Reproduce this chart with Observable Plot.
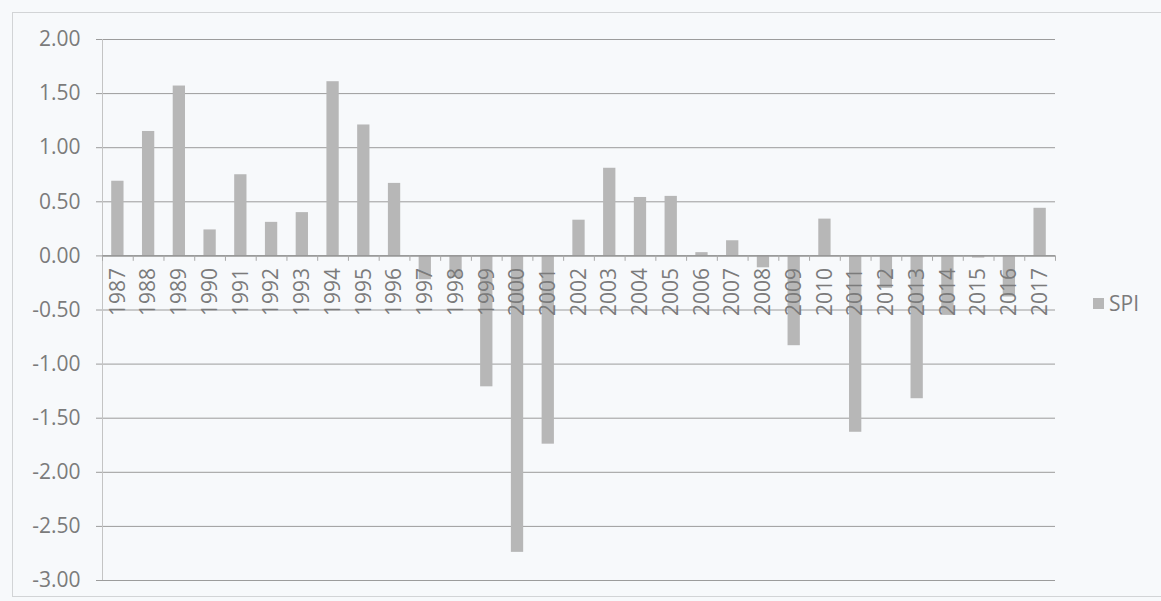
<!DOCTYPE html>
<html>
<head>
<meta charset="utf-8">
<script src="https://cdn.jsdelivr.net/npm/d3@7"></script>
<script src="https://cdn.jsdelivr.net/npm/@observablehq/plot@0.6"></script>
<style>
  html, body { margin: 0; padding: 0; background: #f7f9fb; }
  #wrap { position: relative; width: 1161px; height: 601px; overflow: hidden; }
  #border { position: absolute; left: 12px; top: 12px; width: 1160px; height: 585px; border-left: 1px solid #d2d4d6; border-top: 1px solid #d2d4d6; border-bottom: 1px solid #d2d4d6; box-sizing: border-box; }
  #legend { position: absolute; left: 1093px; top: 289px; height: 28px; font-family: "Open Sans", "Noto Sans", sans-serif; font-size: 21px; color: #7b7b7b; display: flex; align-items: center; }
  #legend span.sw { display: inline-block; width: 11px; height: 11px; background: #b7b7b7; margin-right: 5px; }
</style>
</head>
<body>
<div id="wrap">
  <div id="border"></div>
  <div id="chart"></div>
  <div id="legend"><span class="sw"></span><span>SPI</span></div>
</div>
<script>
const years = ["1987","1988","1989","1990","1991","1992","1993","1994","1995","1996",
  "1997","1998","1999","2000","2001","2002","2003","2004","2005","2006",
  "2007","2008","2009","2010","2011","2012","2013","2014","2015","2016","2017"];
const spi = [0.69, 1.15, 1.57, 0.24, 0.75, 0.31, 0.40, 1.61, 1.21, 0.67,
  -0.22, -0.20, -1.21, -2.74, -1.74, 0.33, 0.81, 0.54, 0.55, 0.03,
  0.14, -0.11, -0.83, 0.34, -1.63, -0.30, -1.32, -0.55, -0.02, -0.38, 0.44];
const yTicks = [-3, -2.5, -2, -1.5, -1, -0.5, 0, 0.5, 1, 1.5, 2];

const data = years.map((year, i) => ({year, spi: spi[i]}));

const W = 1161, H = 601, mL = 102, mR = 106, mT = 39, mB = 21;
const step = (W - mL - mR) / years.length;

const chart = Plot.plot({
  width: W,
  height: H,
  marginLeft: mL,
  marginRight: mR,
  marginTop: mT,
  marginBottom: mB,
  style: {background: "transparent", color: "#7b7b7b", fontFamily: "'Open Sans', 'Noto Sans', sans-serif", fontSize: "21px", overflow: "visible"},
  x: {domain: years, paddingInner: 0.6, paddingOuter: 0.3, round: false, axis: null, label: null},
  y: {domain: [-3, 2], axis: null, label: null},
  marks: [
    Plot.ruleY(yTicks, {stroke: "#9c9c9c", strokeWidth: 1}),
    Plot.axisY({ticks: yTicks, label: null, tickFormat: d => d.toFixed(2), tickSize: 6, tickPadding: 16, stroke: "#9c9c9c", fill: "#7b7b7b", fontSize: 21}),
    Plot.ruleX([years[0]], {dx: -step / 2, y1: -3, y2: 2, stroke: "#c4c4c4"}),
    Plot.barY(data, {x: "year", y: "spi", fill: "#b7b7b7"}),
    Plot.ruleY([0], {stroke: "#8c8c8c", strokeWidth: 1.2}),
    Plot.ruleX(years, {x: d => d, dx: -step / 2, y1: 0, y2: -0.05, stroke: "#a8a8a8"}),
    Plot.ruleX([years[years.length - 1]], {dx: step / 2, y1: 0, y2: -0.05, stroke: "#a8a8a8"}),
    Plot.text(years, {x: d => d, y: 0, text: d => d, rotate: -90, textAnchor: "end", lineAnchor: "middle", dy: 12, fill: "#7b7b7b", fontSize: 21})
  ]
});
document.getElementById("chart").appendChild(chart);
</script>
</body>
</html>
